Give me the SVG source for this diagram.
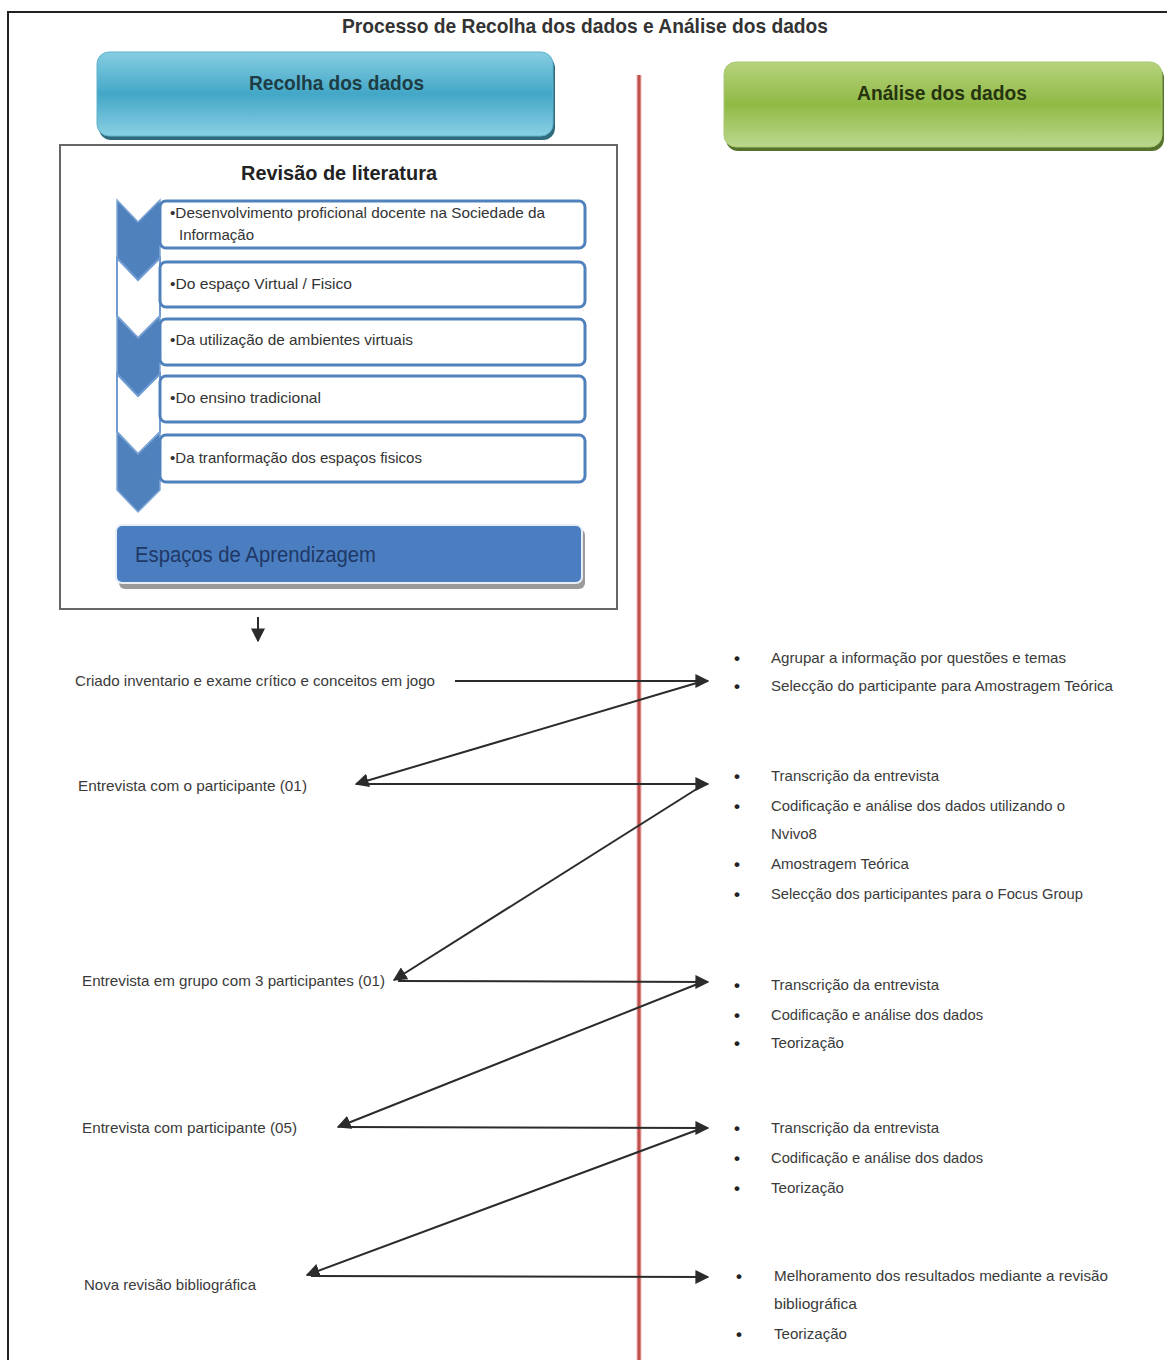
<svg xmlns="http://www.w3.org/2000/svg" width="1167" height="1360" viewBox="0 0 1167 1360">
<defs>
<style>
text{font-family:"Liberation Sans",Arial,sans-serif;}
.t{font-size:15px;fill:#3a3a3a;}
.b{font-size:17px;font-weight:bold;fill:#222;}
.h{font-size:21px;}
.ct{font-size:15px;fill:#333;}
.con{stroke:#2b2b2b;stroke-width:2;fill:none;marker-end:url(#ah);}
.box{fill:#fff;stroke:#4f81bd;stroke-width:3;}
.chf{fill:#4f81bd;stroke:#7ea6d6;stroke-width:1.5;}
.chw{fill:#fff;stroke:#6f9bd2;stroke-width:2;}
</style>
<marker id="ah" viewBox="0 0 10 10" refX="9" refY="5" markerWidth="7" markerHeight="7" markerUnits="strokeWidth" orient="auto">
<path d="M0,0 L10,5 L0,10 z" fill="#2b2b2b"/>
</marker>
<linearGradient id="gb" x1="0" y1="0" x2="0" y2="1">
<stop offset="0" stop-color="#86cde2"/>
<stop offset="0.5" stop-color="#43a7c7"/>
<stop offset="1" stop-color="#8ad0e3"/>
</linearGradient>
<linearGradient id="gg" x1="0" y1="0" x2="0" y2="1">
<stop offset="0" stop-color="#b7d27c"/>
<stop offset="0.5" stop-color="#8fb945"/>
<stop offset="1" stop-color="#bdd88f"/>
</linearGradient>
</defs>
<rect x="0" y="0" width="1167" height="1360" fill="#fff"/>
<path d="M8,1360 V12 H1167" fill="none" stroke="#222" stroke-width="2"/>
<text x="342" y="33" class="h" font-weight="bold" fill="#333" textLength="486" lengthAdjust="spacingAndGlyphs">Processo de Recolha dos dados e Análise dos dados</text>
<line x1="639" y1="75" x2="639" y2="1360" stroke="#f0b8b6" stroke-width="5"/>
<line x1="639" y1="75" x2="639" y2="1360" stroke="#c0504d" stroke-width="3"/>

<g id="recolha">
<rect x="99" y="56" width="456" height="84" rx="12" fill="#2f6b7c"/>
<rect x="97" y="52" width="456" height="84" rx="12" fill="url(#gb)" stroke="#5fb3cd" stroke-width="1"/>
<text x="249" y="90" class="h" font-weight="bold" fill="#1d3c44" textLength="175" lengthAdjust="spacingAndGlyphs">Recolha dos dados</text>
</g>

<g id="analise">
<rect x="726" y="66" width="438" height="85" rx="12" fill="#55732a"/>
<rect x="724" y="62" width="438" height="85" rx="12" fill="url(#gg)" stroke="#a8c872" stroke-width="1"/>
<text x="857" y="100" class="h" font-weight="bold" fill="#26330f" textLength="170" lengthAdjust="spacingAndGlyphs">Análise dos dados</text>
</g>

<g id="revisao">
<rect x="60" y="145" width="557" height="464" fill="#fff" stroke="#666" stroke-width="2"/>
<text x="241" y="180" class="h" font-weight="bold" fill="#222" textLength="196" lengthAdjust="spacingAndGlyphs">Revisão de literatura</text>
</g>

<g id="chevrons">
<polygon class="chf" points="117,200 138,222 160,200 160,258 138,280 117,258"/>
<polygon class="chw" points="117,258 138,280 160,258 160,316 138,338 117,316"/>
<polygon class="chf" points="117,316 138,338 160,316 160,374 138,396 117,374"/>
<polygon class="chw" points="117,374 138,396 160,374 160,432 138,454 117,432"/>
<polygon class="chf" points="117,432 138,454 160,432 160,490 138,512 117,490"/>
</g>

<g id="item1">
<rect class="box" x="160" y="201" width="425" height="47" rx="6"/>
<text class="ct" x="170" y="218" textLength="375" lengthAdjust="spacingAndGlyphs">•Desenvolvimento proficional docente na Sociedade da</text>
<text class="ct" x="179" y="240" textLength="75" lengthAdjust="spacingAndGlyphs">Informação</text>
</g>
<g id="item2">
<rect class="box" x="160" y="262" width="425" height="45" rx="6"/>
<text class="ct" x="170" y="289" textLength="182" lengthAdjust="spacingAndGlyphs">•Do espaço  Virtual / Fisico</text>
</g>
<g id="item3">
<rect class="box" x="160" y="319" width="425" height="46" rx="6"/>
<text class="ct" x="170" y="345" textLength="243" lengthAdjust="spacingAndGlyphs">•Da utilização de ambientes virtuais</text>
</g>
<g id="item4">
<rect class="box" x="160" y="376" width="425" height="46" rx="6"/>
<text class="ct" x="170" y="403" textLength="151" lengthAdjust="spacingAndGlyphs">•Do ensino tradicional</text>
</g>
<g id="item5">
<rect class="box" x="160" y="435" width="425" height="47" rx="6"/>
<text class="ct" x="170" y="463" textLength="252" lengthAdjust="spacingAndGlyphs">•Da tranformação dos espaços fisicos</text>
</g>

<g id="espacos">
<rect x="119" y="529" width="466" height="60" rx="6" fill="#9a9a9a"/>
<rect x="116" y="525" width="466" height="58" rx="6" fill="#4a7ec0" stroke="#e8eef7" stroke-width="2"/>
<text x="135" y="562" font-size="22" fill="#1f3866" textLength="241" lengthAdjust="spacingAndGlyphs">Espaços de Aprendizagem</text>
</g>

<g id="left-steps">
<text class="t" x="75" y="686" textLength="360" lengthAdjust="spacingAndGlyphs">Criado inventario e exame crítico e conceitos em jogo</text>
<text class="t" x="78" y="791" textLength="229" lengthAdjust="spacingAndGlyphs">Entrevista com o participante (01)</text>
<text class="t" x="82" y="986" textLength="303" lengthAdjust="spacingAndGlyphs">Entrevista em grupo com 3 participantes (01)</text>
<text class="t" x="82" y="1133" textLength="215" lengthAdjust="spacingAndGlyphs">Entrevista com participante (05)</text>
<text class="t" x="84" y="1290" textLength="172" lengthAdjust="spacingAndGlyphs">Nova revisão bibliográfica</text>
</g>

<g id="right-g1">
<text class="b" x="734" y="664">•</text><text class="t" x="771" y="663" textLength="295" lengthAdjust="spacingAndGlyphs">Agrupar a informação por questões e temas</text>
<text class="b" x="734" y="692">•</text><text class="t" x="771" y="691" textLength="342" lengthAdjust="spacingAndGlyphs">Selecção do participante para Amostragem Teórica</text>
</g>
<g id="right-g2">
<text class="b" x="734" y="782">•</text><text class="t" x="771" y="781" textLength="168" lengthAdjust="spacingAndGlyphs">Transcrição da entrevista</text>
<text class="b" x="734" y="812">•</text><text class="t" x="771" y="811" textLength="294" lengthAdjust="spacingAndGlyphs">Codificação e análise dos dados utilizando o</text>
<text class="t" x="771" y="839" textLength="46" lengthAdjust="spacingAndGlyphs">Nvivo8</text>
<text class="b" x="734" y="870">•</text><text class="t" x="771" y="869" textLength="138" lengthAdjust="spacingAndGlyphs">Amostragem Teórica</text>
<text class="b" x="734" y="900">•</text><text class="t" x="771" y="899" textLength="312" lengthAdjust="spacingAndGlyphs">Selecção dos participantes para o Focus Group</text>
</g>
<g id="right-g3">
<text class="b" x="734" y="991">•</text><text class="t" x="771" y="990" textLength="168" lengthAdjust="spacingAndGlyphs">Transcrição da entrevista</text>
<text class="b" x="734" y="1021">•</text><text class="t" x="771" y="1020" textLength="212" lengthAdjust="spacingAndGlyphs">Codificação e análise dos dados</text>
<text class="b" x="734" y="1049">•</text><text class="t" x="771" y="1048" textLength="73" lengthAdjust="spacingAndGlyphs">Teorização</text>
</g>
<g id="right-g4">
<text class="b" x="734" y="1134">•</text><text class="t" x="771" y="1133" textLength="168" lengthAdjust="spacingAndGlyphs">Transcrição da entrevista</text>
<text class="b" x="734" y="1164">•</text><text class="t" x="771" y="1163" textLength="212" lengthAdjust="spacingAndGlyphs">Codificação e análise dos dados</text>
<text class="b" x="734" y="1194">•</text><text class="t" x="771" y="1193" textLength="73" lengthAdjust="spacingAndGlyphs">Teorização</text>
</g>
<g id="right-g5">
<text class="b" x="736" y="1282">•</text><text class="t" x="774" y="1281" textLength="334" lengthAdjust="spacingAndGlyphs">Melhoramento dos resultados mediante a revisão</text>
<text class="t" x="774" y="1309" textLength="83" lengthAdjust="spacingAndGlyphs">bibliográfica</text>
<text class="b" x="736" y="1340">•</text><text class="t" x="774" y="1339" textLength="73" lengthAdjust="spacingAndGlyphs">Teorização</text>
</g>

<g id="connectors">
<line class="con" x1="258" y1="617" x2="258" y2="641"/>
<line class="con" x1="455" y1="681" x2="708" y2="681"/>
<line class="con" x1="700" y1="682" x2="356" y2="784"/>
<line class="con" x1="360" y1="784" x2="708" y2="784"/>
<line class="con" x1="703" y1="785" x2="394" y2="980"/>
<line class="con" x1="398" y1="981" x2="708" y2="982"/>
<line class="con" x1="700" y1="983" x2="338" y2="1127"/>
<line class="con" x1="342" y1="1127" x2="708" y2="1128"/>
<line class="con" x1="700" y1="1129" x2="307" y2="1275"/>
<line class="con" x1="311" y1="1276" x2="708" y2="1277"/>
</g>
</svg>
